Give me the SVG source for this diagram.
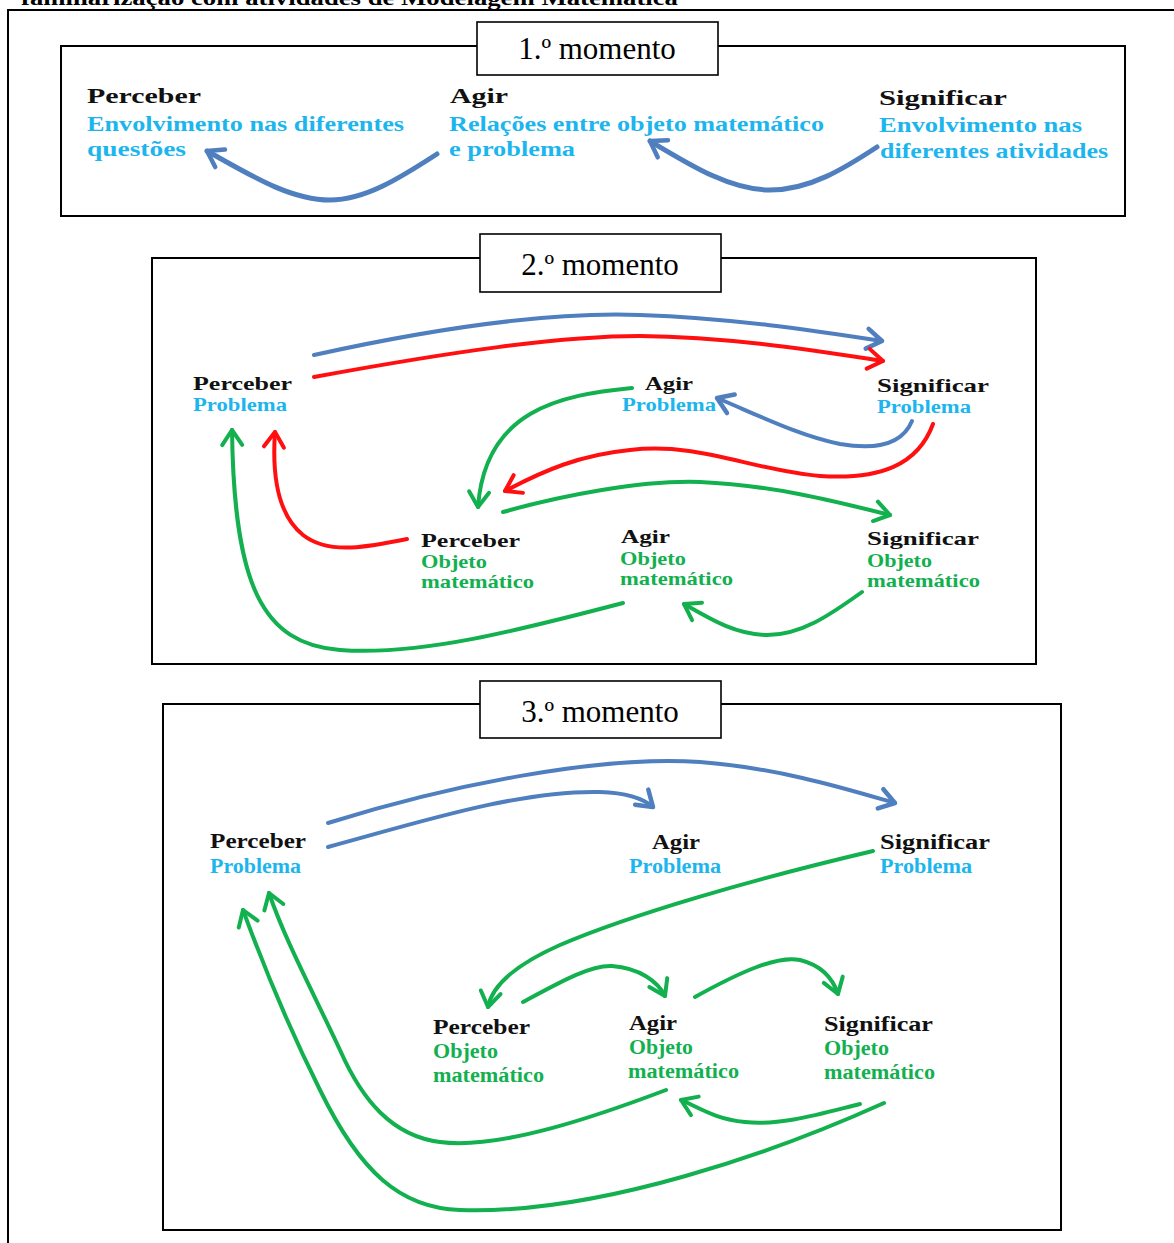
<svg xmlns="http://www.w3.org/2000/svg" width="1174" height="1243" viewBox="0 0 1174 1243">
  <style>
    .frame { fill: none; stroke: #000; stroke-width: 2; }
    .tag { fill: #fff; stroke: #000; stroke-width: 1.6; }
    .tagtxt { font-family: "Liberation Serif", "Times New Roman", serif; font-size: 31px; fill: #000; text-anchor: middle; }
    .hd { font-family: "Liberation Serif", "Times New Roman", serif; font-weight: bold; fill: #111; }
    .cy { font-family: "Liberation Serif", "Times New Roman", serif; font-weight: bold; fill: #1cb5ee; }
    .gr { font-family: "Liberation Serif", "Times New Roman", serif; font-weight: bold; fill: #13b050; }
    .s1 { font-size: 22px; }
    .s2 { font-size: 19px; }
    .s3 { font-size: 20px; }
    .cap { font-family: "Liberation Serif", "Times New Roman", serif; font-weight: bold; font-size: 20px; fill: #000; }
    .blue { fill: none; stroke: #4f7fbf; stroke-linecap: round; marker-end: url(#hb); }
    .red { fill: none; stroke: #ff0f0f; stroke-linecap: round; marker-end: url(#hr); }
    .green { fill: none; stroke: #12b04e; stroke-linecap: round; marker-end: url(#hg); }
    .w5 { stroke-width: 5; }
    .w4 { stroke-width: 4; }
  </style>
  <defs>
    <marker id="hb" markerUnits="userSpaceOnUse" viewBox="-18 -12 22 24" refX="0" refY="0" markerWidth="22" markerHeight="24" orient="auto" overflow="visible">
      <path d="M-15,-10 L0,0 L-15,10" fill="none" stroke="#4f7fbf" stroke-width="4.5" stroke-linecap="round" stroke-linejoin="round"/>
    </marker>
    <marker id="hr" markerUnits="userSpaceOnUse" viewBox="-18 -12 22 24" refX="0" refY="0" markerWidth="22" markerHeight="24" orient="auto" overflow="visible">
      <path d="M-15,-10 L0,0 L-15,10" fill="none" stroke="#ff0f0f" stroke-width="4" stroke-linecap="round" stroke-linejoin="round"/>
    </marker>
    <marker id="hg" markerUnits="userSpaceOnUse" viewBox="-18 -12 22 24" refX="0" refY="0" markerWidth="22" markerHeight="24" orient="auto" overflow="visible">
      <path d="M-15,-10 L0,0 L-15,10" fill="none" stroke="#12b04e" stroke-width="4" stroke-linecap="round" stroke-linejoin="round"/>
    </marker>
  </defs>

  <rect width="1174" height="1243" fill="#fff"/>

  <!-- caption line, clipped by the top edge -->
  <text class="cap" x="21" y="5" textLength="657" lengthAdjust="spacingAndGlyphs">familiarização com atividades de Modelagem Matemática</text>

  <!-- outer frame (left and top edges) -->
  <path class="frame" d="M8,1243 L8,10 L1174,10"/>

  <!-- panel frames -->
  <g id="panel-1">
    <rect class="frame" x="61" y="46" width="1064" height="170"/>
    <rect class="tag" x="477" y="22" width="241" height="53"/>
    <text class="tagtxt" x="597" y="59">1.º momento</text>
  </g>
  <g id="panel-2">
    <rect class="frame" x="152" y="258" width="884" height="406"/>
    <rect class="tag" x="480" y="234" width="241" height="58"/>
    <text class="tagtxt" x="600" y="275">2.º momento</text>
  </g>
  <g id="panel-3">
    <rect class="frame" x="163" y="704" width="898" height="526"/>
    <rect class="tag" x="480" y="681" width="241" height="57"/>
    <text class="tagtxt" x="600" y="722">3.º momento</text>
  </g>

  <!-- panel 1 nodes -->
  <g id="p1-perceber">
    <text class="hd s1" x="87" y="103" textLength="114" lengthAdjust="spacingAndGlyphs">Perceber</text>
    <text class="cy s1" x="87" y="131" textLength="317" lengthAdjust="spacingAndGlyphs">Envolvimento nas diferentes</text>
    <text class="cy s1" x="87" y="156" textLength="99" lengthAdjust="spacingAndGlyphs">questões</text>
  </g>
  <g id="p1-agir">
    <text class="hd s1" x="450" y="103" textLength="58" lengthAdjust="spacingAndGlyphs">Agir</text>
    <text class="cy s1" x="449" y="131" textLength="375" lengthAdjust="spacingAndGlyphs">Relações entre objeto matemático</text>
    <text class="cy s1" x="449" y="156" textLength="126" lengthAdjust="spacingAndGlyphs">e problema</text>
  </g>
  <g id="p1-significar">
    <text class="hd s1" x="879" y="105" textLength="128" lengthAdjust="spacingAndGlyphs">Significar</text>
    <text class="cy s1" x="879" y="132" textLength="203" lengthAdjust="spacingAndGlyphs">Envolvimento nas</text>
    <text class="cy s1" x="880" y="158" textLength="228" lengthAdjust="spacingAndGlyphs">diferentes atividades</text>
  </g>

  <!-- panel 2 nodes -->
  <g id="p2-perceber-problema">
    <text class="hd s2" x="193" y="390" textLength="99" lengthAdjust="spacingAndGlyphs">Perceber</text>
    <text class="cy s2" x="193" y="411" textLength="94" lengthAdjust="spacingAndGlyphs">Problema</text>
  </g>
  <g id="p2-agir-problema">
    <text class="hd s2" x="645" y="390" textLength="48" lengthAdjust="spacingAndGlyphs">Agir</text>
    <text class="cy s2" x="622" y="411" textLength="94" lengthAdjust="spacingAndGlyphs">Problema</text>
  </g>
  <g id="p2-significar-problema">
    <text class="hd s2" x="877" y="392" textLength="112" lengthAdjust="spacingAndGlyphs">Significar</text>
    <text class="cy s2" x="877" y="413" textLength="94" lengthAdjust="spacingAndGlyphs">Problema</text>
  </g>
  <g id="p2-perceber-objeto">
    <text class="hd s2" x="421" y="547" textLength="99" lengthAdjust="spacingAndGlyphs">Perceber</text>
    <text class="gr s2" x="421" y="568" textLength="66" lengthAdjust="spacingAndGlyphs">Objeto</text>
    <text class="gr s2" x="421" y="588" textLength="113" lengthAdjust="spacingAndGlyphs">matemático</text>
  </g>
  <g id="p2-agir-objeto">
    <text class="hd s2" x="621" y="543" textLength="49" lengthAdjust="spacingAndGlyphs">Agir</text>
    <text class="gr s2" x="620" y="565" textLength="66" lengthAdjust="spacingAndGlyphs">Objeto</text>
    <text class="gr s2" x="620" y="585" textLength="113" lengthAdjust="spacingAndGlyphs">matemático</text>
  </g>
  <g id="p2-significar-objeto">
    <text class="hd s2" x="867" y="545" textLength="112" lengthAdjust="spacingAndGlyphs">Significar</text>
    <text class="gr s2" x="867" y="567" textLength="65" lengthAdjust="spacingAndGlyphs">Objeto</text>
    <text class="gr s2" x="867" y="587" textLength="113" lengthAdjust="spacingAndGlyphs">matemático</text>
  </g>

  <!-- panel 3 nodes -->
  <g id="p3-perceber-problema">
    <text class="hd s3" x="210" y="848" textLength="96" lengthAdjust="spacingAndGlyphs">Perceber</text>
    <text class="cy s3" x="210" y="873" textLength="91" lengthAdjust="spacingAndGlyphs">Problema</text>
  </g>
  <g id="p3-agir-problema">
    <text class="hd s3" x="652" y="849" textLength="48" lengthAdjust="spacingAndGlyphs">Agir</text>
    <text class="cy s3" x="629" y="873" textLength="92" lengthAdjust="spacingAndGlyphs">Problema</text>
  </g>
  <g id="p3-significar-problema">
    <text class="hd s3" x="880" y="849" textLength="110" lengthAdjust="spacingAndGlyphs">Significar</text>
    <text class="cy s3" x="880" y="873" textLength="92" lengthAdjust="spacingAndGlyphs">Problema</text>
  </g>
  <g id="p3-perceber-objeto">
    <text class="hd s3" x="433" y="1034" textLength="97" lengthAdjust="spacingAndGlyphs">Perceber</text>
    <text class="gr s3" x="433" y="1058" textLength="65" lengthAdjust="spacingAndGlyphs">Objeto</text>
    <text class="gr s3" x="433" y="1082" textLength="111" lengthAdjust="spacingAndGlyphs">matemático</text>
  </g>
  <g id="p3-agir-objeto">
    <text class="hd s3" x="629" y="1030" textLength="48" lengthAdjust="spacingAndGlyphs">Agir</text>
    <text class="gr s3" x="629" y="1054" textLength="64" lengthAdjust="spacingAndGlyphs">Objeto</text>
    <text class="gr s3" x="628" y="1078" textLength="111" lengthAdjust="spacingAndGlyphs">matemático</text>
  </g>
  <g id="p3-significar-objeto">
    <text class="hd s3" x="824" y="1031" textLength="109" lengthAdjust="spacingAndGlyphs">Significar</text>
    <text class="gr s3" x="824" y="1055" textLength="65" lengthAdjust="spacingAndGlyphs">Objeto</text>
    <text class="gr s3" x="824" y="1079" textLength="111" lengthAdjust="spacingAndGlyphs">matemático</text>
  </g>

  <!-- connectors -->
  <g id="connectors">
    <!-- panel 1 -->
    <path class="blue w5" d="M437,154 C400,178 365,200 330,200 C290,200 250,175 207,151"/>
    <path class="blue w5" d="M877,147 C845,168 810,190 770,190 C730,190 690,165 650,141"/>

    <!-- panel 2 -->
    <path class="blue w4" d="M314,355 C450,325 560,312 640,315 C730,318 810,330 882,341"/>
    <path class="red w4" d="M314,377 C450,352 560,336 640,336 C730,337 810,350 883,361"/>
    <path class="green w4" d="M632,388 C560,395 485,410 478,507"/>
    <path class="blue w4" d="M912,421 C902,445 875,450 840,444 C800,436 760,416 717,398"/>
    <path class="red w4" d="M933,424 C918,465 880,480 820,476 C750,470 700,442 630,450 C580,455 545,470 505,491"/>
    <path class="green w4" d="M503,512 C560,496 640,480 700,482 C770,485 830,500 890,515"/>
    <path class="red w4" d="M407,539 C370,546 330,556 303,535 C278,515 272,475 275,432"/>
    <path class="green w4" d="M623,603 C520,630 420,656 340,650 C262,644 234,585 232,430"/>
    <path class="green w4" d="M862,592 C830,615 800,636 765,635 C735,634 712,620 684,604"/>

    <!-- panel 3 -->
    <path class="blue w4" d="M328,823 C450,785 600,755 700,762 C780,768 850,790 895,803"/>
    <path class="blue w4" d="M328,847 C420,822 520,790 600,792 C630,793 645,800 653,807"/>
    <path class="green w4" d="M873,851 C750,880 630,915 560,945 C515,965 492,985 488,1007"/>
    <path class="green w4" d="M523,1002 C560,982 590,965 612,966 C640,968 658,982 665,996"/>
    <path class="green w4" d="M695,997 C740,972 778,955 800,960 C824,966 834,982 838,994"/>
    <path class="green w4" d="M860,1104 C820,1114 780,1126 745,1122 C715,1119 700,1108 681,1100"/>
    <path class="green w4" d="M666,1090 C600,1115 500,1150 440,1142 C392,1136 362,1100 340,1050 C312,990 285,940 269,893"/>
    <path class="green w4" d="M884,1103 C780,1150 600,1215 460,1210 C400,1208 360,1172 320,1090 C290,1030 265,970 243,910"/>
  </g>
</svg>
